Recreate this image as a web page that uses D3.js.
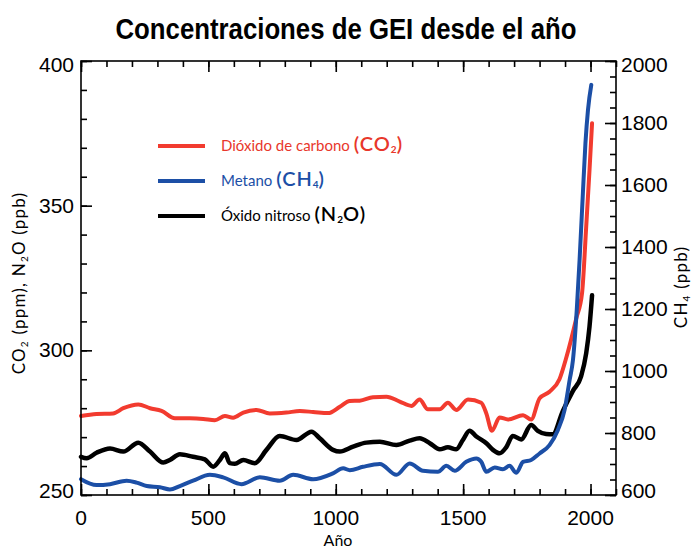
<!DOCTYPE html>
<html><head><meta charset="utf-8">
<script src="https://cdnjs.cloudflare.com/ajax/libs/d3/7.8.5/d3.min.js"></script>
<style>html,body{margin:0;padding:0;background:#fff;}svg{display:block;}</style>
</head><body>
<script>
// ---- data ----
const co2Years = [0, 61, 126, 166, 225, 271, 316, 369, 427, 480, 525, 565, 597, 637, 689, 741, 806, 859, 911, 970, 1016, 1055, 1094, 1146, 1199, 1251, 1297, 1329, 1362, 1408, 1440, 1473, 1519, 1571, 1591, 1613, 1643, 1676, 1735, 1767, 1800, 1839, 1878, 1905, 1944, 1967, 1983, 1996, 2006];
const co2 = [277.3, 278, 278.2, 280, 281.3, 280, 279.1, 276.5, 276.5, 276.3, 275.8, 277.3, 276.7, 278.5, 279.4, 278.2, 278.5, 279, 278.7, 278.3, 280.5, 282.5, 282.6, 283.8, 284, 282.3, 280.8, 283, 279.6, 279.6, 281.9, 279.4, 283, 281.9, 278.2, 272.2, 276.8, 276.1, 277.6, 276.1, 283.4, 285.7, 290, 297.5, 311, 320, 342.7, 362.3, 378.5];
const ch4Years = [0, 61, 114, 179, 218, 258, 310, 349, 388, 440, 506, 558, 630, 702, 780, 833, 911, 989, 1029, 1055, 1107, 1173, 1238, 1290, 1342, 1401, 1434, 1467, 1512, 1552, 1571, 1591, 1624, 1656, 1682, 1709, 1735, 1767, 1800, 1839, 1872, 1898, 1918, 1931, 1946, 1957, 1970, 1980, 1990, 2003];
const ch4 = [651, 632, 635, 646, 640, 629, 625, 618, 629, 646, 665, 657, 635, 657, 646, 665, 651, 670, 686, 680, 691, 700, 665, 702, 678, 675, 694, 678, 707, 718, 707, 675, 689, 683, 694, 672, 707, 713, 734, 761, 810, 874, 971, 1035, 1197, 1358, 1573, 1734, 1842, 1923];
const n2oYears = [0, 22, 61, 114, 166, 225, 271, 323, 349, 388, 440, 486, 519, 545, 565, 584, 604, 637, 682, 728, 780, 846, 905, 937, 989, 1016, 1068, 1120, 1173, 1238, 1290, 1329, 1369, 1408, 1440, 1473, 1499, 1525, 1552, 1591, 1617, 1643, 1669, 1695, 1728, 1767, 1793, 1826, 1852, 1891, 1931, 1963, 1983, 1996, 2006];
const n2o = [263.2, 262.7, 264.6, 266.1, 265, 268.1, 265, 261.2, 262.1, 264.1, 263.2, 262.3, 259.8, 262.1, 264.4, 261, 260.8, 262.1, 261, 265.6, 270.4, 269, 271.9, 269.6, 265.6, 265, 266.7, 268.1, 268.4, 267.3, 268.8, 269.6, 267.9, 265.8, 266.5, 265.8, 269, 272.2, 270.2, 267.9, 265.6, 264.4, 266.5, 270.4, 269.2, 274.2, 272.2, 271.1, 271, 279, 286, 291, 299, 308.2, 319];
const xTicks = [0, 500, 1000, 1500, 2000];
const leftTicks = [250, 300, 350, 400];
const rightTicks = [600, 800, 1000, 1200, 1400, 1600, 1800, 2000];
const titleText = "Concentraciones de GEI desde el año";

const W = 693, H = 549;
const L = 81, R = 616, T = 61, B = 495;
const svg = d3.select("body").append("svg").attr("width", W).attr("height", H);

const x = d3.scaleLinear().domain([0, 2100]).range([L, R]);
const yL = d3.scaleLinear().domain([250, 400]).range([B, T]);
const yR = d3.scaleLinear().domain([600, 2000]).range([B, T]);

const numFont = "'Liberation Sans', Arial, sans-serif";
const humFont = "Lato, 'Open Sans', sans-serif";

// title
svg.append("text").attr("x", 346).attr("y", 39).attr("text-anchor", "middle")
  .attr("font-family", "'Liberation Sans Narrow','Arial Narrow','Liberation Sans',Arial,sans-serif")
  .attr("font-weight", "bold").attr("font-size", 29)
  .attr("textLength", 461).attr("lengthAdjust", "spacingAndGlyphs")
  .text(titleText);

// series
const lineCo2 = d3.line().x((d, i) => x(co2Years[i])).y(d => yL(d)).curve(d3.curveMonotoneX);
const lineN2o = d3.line().x((d, i) => x(n2oYears[i])).y(d => yL(d)).curve(d3.curveMonotoneX);
const lineCh4 = d3.line().x((d, i) => x(ch4Years[i])).y(d => yR(d)).curve(d3.curveMonotoneX);
const g = svg.append("g");
g.append("path").attr("d", lineCo2(co2)).attr("fill", "none").attr("stroke", "#f23b2f").attr("stroke-width", 4).attr("stroke-linejoin", "round").attr("stroke-linecap", "round");
g.append("path").attr("d", lineN2o(n2o)).attr("fill", "none").attr("stroke", "#000").attr("stroke-width", 4.5).attr("stroke-linejoin", "round").attr("stroke-linecap", "round");
g.append("path").attr("d", lineCh4(ch4)).attr("fill", "none").attr("stroke", "#1c4fa6").attr("stroke-width", 4).attr("stroke-linejoin", "round").attr("stroke-linecap", "round");

// frame
svg.append("rect").attr("x", L).attr("y", T).attr("width", R - L).attr("height", B - T)
  .attr("fill", "none").attr("stroke", "#000").attr("stroke-width", 1.6);

// axes (ticks inward)
const xMinor = d3.range(0, 2101, 100);
svg.append("g").attr("transform", `translate(0,${B})`)
  .call(d3.axisTop(x).tickValues(xMinor).tickSize(6).tickFormat(""));
svg.append("g").attr("transform", `translate(0,${B})`)
  .call(d3.axisTop(x).tickValues(xTicks).tickSize(11).tickFormat(""));
svg.append("g").attr("transform", `translate(0,${T})`)
  .call(d3.axisBottom(x).tickValues(xMinor).tickSize(6).tickFormat(""));
svg.append("g").attr("transform", `translate(0,${T})`)
  .call(d3.axisBottom(x).tickValues(xTicks).tickSize(11).tickFormat(""));
svg.append("g").attr("transform", `translate(${L},0)`)
  .call(d3.axisRight(yL).tickValues(d3.range(250, 401, 10)).tickSize(6).tickFormat(""));
svg.append("g").attr("transform", `translate(${L},0)`)
  .call(d3.axisRight(yL).tickValues(leftTicks).tickSize(11).tickFormat(""));
svg.append("g").attr("transform", `translate(${R},0)`)
  .call(d3.axisLeft(yR).tickValues(d3.range(600, 2001, 50)).tickSize(6).tickFormat(""));
svg.append("g").attr("transform", `translate(${R},0)`)
  .call(d3.axisLeft(yR).tickValues(rightTicks).tickSize(11).tickFormat(""));
svg.selectAll(".domain").remove();
svg.selectAll(".tick line").attr("stroke", "#000").attr("stroke-width", 1.6);

// tick labels
svg.append("g").selectAll("text").data(xTicks).join("text")
  .attr("x", d => x(d)).attr("y", 525).attr("text-anchor", "middle")
  .attr("font-family", numFont).attr("font-size", 21).text(d => d);
svg.append("g").selectAll("text").data(leftTicks).join("text")
  .attr("x", 74).attr("y", d => yL(d) + 7 + (d === 400 ? 4 : 0) + (d === 250 ? -4 : 0))
  .attr("text-anchor", "end").attr("font-family", numFont).attr("font-size", 21).text(d => d);
svg.append("g").selectAll("text").data(rightTicks).join("text")
  .attr("x", 621).attr("y", d => yR(d) + 7 + (d === 2000 ? 4 : 0) + (d === 600 ? -4 : 0))
  .attr("text-anchor", "start").attr("font-family", numFont).attr("font-size", 21).text(d => d);

// axis titles
svg.append("text").attr("x", 338).attr("y", 546).attr("text-anchor", "middle")
  .attr("font-family", humFont).attr("font-size", 16).text("Año");

const lt = svg.append("text").attr("transform", "translate(25,283) rotate(-90)").attr("text-anchor", "middle")
  .attr("font-family", humFont).attr("font-size", 17).attr("letter-spacing", 1.2);
lt.append("tspan").text("CO");
lt.append("tspan").attr("font-size", 10).attr("dy", 3).text("2");
lt.append("tspan").attr("dy", -3).text("  (ppm),  N");
lt.append("tspan").attr("font-size", 10).attr("dy", 3).text("2");
lt.append("tspan").attr("dy", -3).text("O  (ppb)");

const rt = svg.append("text").attr("transform", "translate(687,287) rotate(-90)").attr("text-anchor", "middle")
  .attr("font-family", humFont).attr("font-size", 17).attr("letter-spacing", 1.2);
rt.append("tspan").text("CH");
rt.append("tspan").attr("font-size", 10).attr("dy", 3).text("4");
rt.append("tspan").attr("dy", -3).text("  (ppb)");

// legend
const legend = [
  {c: "#f23b2f", t: "#e8372b", name: "Dióxido de carbono", pre: "(CO", sub: "2", post: ")", y: 146},
  {c: "#1c4fa6", t: "#1c4fa6", name: "Metano", pre: "(CH", sub: "4", post: ")", y: 181},
  {c: "#000", t: "#000", name: "Óxido nitroso", pre: "(N", sub: "2", post: "O)", y: 216}
];
legend.forEach(d => {
  svg.append("line").attr("x1", 158).attr("x2", 205).attr("y1", d.y).attr("y2", d.y)
    .attr("stroke", d.c).attr("stroke-width", 4);
  const t = svg.append("text").attr("x", 221).attr("y", d.y + 5).attr("fill", d.t)
    .attr("font-family", humFont).attr("font-size", 15);
  t.append("tspan").text(d.name + "  ");
  t.append("tspan").attr("font-size", 20).attr("font-weight", 600).attr("letter-spacing", 1).text(d.pre);
  t.append("tspan").attr("font-size", 10).attr("font-weight", 700).attr("dy", 2).text(d.sub);
  t.append("tspan").attr("font-size", 20).attr("font-weight", 600).attr("dy", -2).attr("letter-spacing", 1).text(d.post);
});
</script>
</body></html>
